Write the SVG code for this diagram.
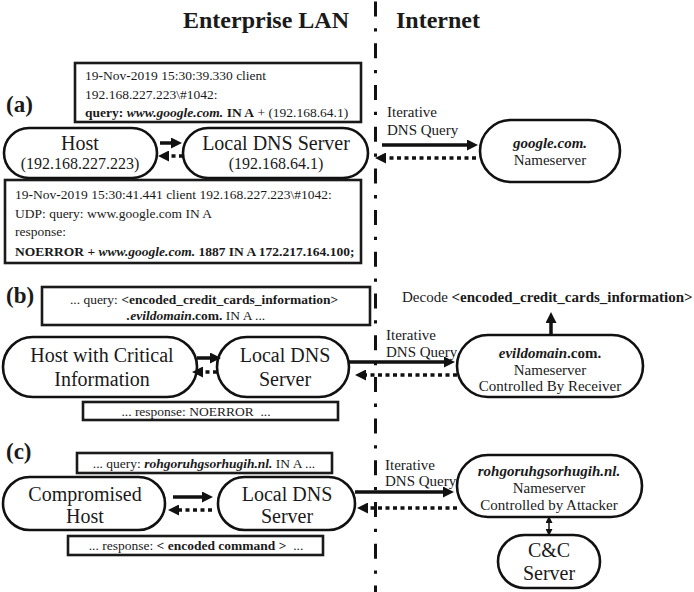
<svg xmlns="http://www.w3.org/2000/svg" width="694" height="592" viewBox="0 0 694 592" font-family="'Liberation Serif', 'DejaVu Serif', serif">
  <style>
    text { font-family: "Liberation Serif", "DejaVu Serif", serif; fill: #1a1a1a; }
    .title { font-size: 24px; font-weight: bold; }
    .tag { font-size: 23px; font-weight: bold; }
    .node { font-size: 20px; }
    .ns { font-size: 15px; }
    .ip { font-size: 16px; }
    .log { font-size: 13.5px; }
    .b { font-weight: bold; }
    .bi { font-weight: bold; font-style: italic; }
    .shape { fill: #fff; stroke: #111; stroke-width: 2.6; }
    .box { fill: #fff; stroke: #1a1a1a; stroke-width: 2.6; }
    .req { fill: none; stroke: #111; stroke-width: 3.5; }
    .rsp { fill: none; stroke: #111; stroke-width: 3.5; stroke-dasharray: 4 3.5; }
    .border { fill: none; stroke: #111; stroke-width: 3; stroke-dasharray: 15 11.7 3.3 11.7; }
  </style>
  <defs>
    <marker id="ah" markerUnits="userSpaceOnUse" markerWidth="11" markerHeight="11" refX="3" refY="5.5" orient="auto">
      <path d="M0,0 L11,5.5 L0,11 z" fill="#111"/>
    </marker>
    <marker id="ahs" markerUnits="userSpaceOnUse" markerWidth="7" markerHeight="7" refX="2" refY="3.5" orient="auto-start-reverse">
      <path d="M0,0 L7,3.5 L0,7 z" fill="#111"/>
    </marker>
  </defs>

  <!-- headings and the LAN / Internet border -->
  <text class="title" x="266" y="28" text-anchor="middle">Enterprise LAN</text>
  <text class="title" x="438" y="28" text-anchor="middle">Internet</text>
  <line class="border" x1="375.5" y1="1.6" x2="375.5" y2="592"/>

  <!-- (a) normal lookup -->
  <text class="tag" x="6" y="112">(a)</text>
  <g id="log-a-query">
    <rect class="box" x="75" y="63" width="286" height="59"/>
    <text class="log" x="85" y="80">19<tspan class="b">-</tspan>Nov<tspan class="b">-</tspan>2019 15:30:39.330 client</text>
    <text class="log" x="85" y="99">192.168.227.223\#1042:</text>
    <text class="log" x="85" y="117"><tspan class="b">query:</tspan> <tspan class="bi">www.google.com.</tspan> <tspan class="b">IN A</tspan> + (192.168.64.1)</text>
  </g>
  <g id="host-a">
    <rect class="shape" x="4" y="128" width="153" height="50" rx="25"/>
    <text class="node" x="80" y="150" text-anchor="middle">Host</text>
    <text class="ip" x="80" y="169" text-anchor="middle">(192.168.227.223)</text>
  </g>
  <g id="ldns-a">
    <rect class="shape" x="183" y="128" width="185" height="50" rx="25"/>
    <text class="node" x="276" y="150" text-anchor="middle">Local DNS Server</text>
    <text class="ip" x="276" y="169" text-anchor="middle">(192.168.64.1)</text>
  </g>
  <g id="log-a-response">
    <rect class="box" x="5" y="180" width="356" height="83"/>
    <text class="log" x="15" y="199">19<tspan class="b">-</tspan>Nov<tspan class="b">-</tspan>2019 15:30:41.441 client 192.168.227.223\#1042:</text>
    <text class="log" x="15" y="218">UDP: query: www.google.com IN A</text>
    <text class="log" x="15" y="236">response:</text>
    <text class="log b" x="15" y="256">NOERROR + <tspan class="bi">www.google.com.</tspan> 1887 IN A 172.217.164.100;</text>
  </g>
  <g id="ns-google">
    <rect class="shape" x="480" y="120" width="140" height="62" rx="31"/>
    <text class="ns bi" x="550" y="148" text-anchor="middle">google.com.</text>
    <text class="ns" x="550" y="165" text-anchor="middle">Nameserver</text>
  </g>
  <text class="ns" x="387" y="117">Iterative</text>
  <text class="ns" x="387" y="135">DNS Query</text>

  <!-- (b) data exfiltration -->
  <text class="tag" x="6" y="303">(b)</text>
  <g id="log-b-query">
    <rect class="box" x="42" y="287" width="328" height="38"/>
    <text class="log" x="204" y="304" text-anchor="middle">... query: <tspan class="b">&lt;encoded_credit_cards_information&gt;</tspan></text>
    <text class="log" x="196" y="320" text-anchor="middle"><tspan class="bi">.evildomain</tspan><tspan class="b">.com.</tspan> IN A ...</text>
  </g>
  <g id="host-b">
    <rect class="shape" x="3" y="337" width="194" height="60" rx="30"/>
    <text class="node" x="102" y="362" text-anchor="middle">Host with Critical</text>
    <text class="node" x="102" y="386" text-anchor="middle">Information</text>
  </g>
  <g id="ldns-b">
    <rect class="shape" x="217" y="337" width="132" height="60" rx="30"/>
    <text class="node" x="285" y="362" text-anchor="middle">Local DNS</text>
    <text class="node" x="285" y="386" text-anchor="middle">Server</text>
  </g>
  <g id="log-b-response">
    <rect class="box" x="83" y="402" width="255" height="18"/>
    <text class="log" x="196" y="416" text-anchor="middle" xml:space="preserve">... response: NOERROR  ...</text>
  </g>
  <g id="ns-evildomain">
    <rect class="shape" x="457" y="335" width="186" height="62" rx="31"/>
    <text class="ns b" x="550" y="358" text-anchor="middle"><tspan class="bi">evildomain</tspan>.com.</text>
    <text class="ns" x="550" y="375" text-anchor="middle">Nameserver</text>
    <text class="ns" x="550" y="391" text-anchor="middle">Controlled By Receiver</text>
  </g>
  <text class="ns" x="402" y="302">Decode <tspan class="b">&lt;encoded_credit_cards_information&gt;</tspan></text>
  <text class="ns" x="386" y="340">Iterative</text>
  <text class="ns" x="386" y="357">DNS Query</text>

  <!-- (c) command and control -->
  <text class="tag" x="6" y="459">(c)</text>
  <g id="log-c-query">
    <rect class="box" x="77" y="453" width="255" height="20"/>
    <text class="log" x="204" y="468" text-anchor="middle">... query: <tspan class="bi">rohgoruhgsorhugih.nl.</tspan> IN A ...</text>
  </g>
  <g id="host-c">
    <rect class="shape" x="3" y="477" width="162" height="53" rx="26.5"/>
    <text class="node" x="85" y="501" text-anchor="middle">Compromised</text>
    <text class="node" x="85" y="523" text-anchor="middle">Host</text>
  </g>
  <g id="ldns-c">
    <rect class="shape" x="218" y="477" width="137" height="53" rx="26.5"/>
    <text class="node" x="287" y="501" text-anchor="middle">Local DNS</text>
    <text class="node" x="287" y="523" text-anchor="middle">Server</text>
  </g>
  <g id="log-c-response">
    <rect class="box" x="68" y="536" width="255" height="19"/>
    <text class="log" x="196" y="550" text-anchor="middle" xml:space="preserve">... response: <tspan class="b">&lt; encoded command &gt;</tspan>  ...</text>
  </g>
  <g id="ns-attacker">
    <rect class="shape" x="457" y="455" width="185" height="62" rx="31"/>
    <text class="ns bi" x="549" y="476" text-anchor="middle">rohgoruhgsorhugih.nl.</text>
    <text class="ns" x="549" y="493" text-anchor="middle">Nameserver</text>
    <text class="ns" x="549" y="510" text-anchor="middle">Controlled by Attacker</text>
  </g>
  <g id="cc-server">
    <rect class="shape" x="498" y="535" width="102" height="53" rx="26.5"/>
    <text class="node" x="549" y="557" text-anchor="middle">C&amp;C</text>
    <text class="node" x="549" y="580" text-anchor="middle">Server</text>
  </g>
  <text class="ns" x="385" y="470">Iterative</text>
  <text class="ns" x="385" y="486">DNS Query</text>

  <!-- connectors: solid = query, dotted = response -->
  <g id="connectors">
    <line class="req" x1="160" y1="143" x2="174" y2="143" marker-end="url(#ah)"/>
    <line class="rsp" x1="183" y1="156" x2="166" y2="156" marker-end="url(#ah)"/>
    <line class="req" x1="382" y1="145" x2="470" y2="145" marker-end="url(#ah)"/>
    <line class="rsp" x1="476" y1="158" x2="383" y2="158" marker-end="url(#ah)"/>

    <line class="req" x1="197" y1="358" x2="213" y2="358" marker-end="url(#ah)"/>
    <line class="rsp" x1="217" y1="372" x2="200" y2="372" marker-end="url(#ah)"/>
    <line class="req" x1="349" y1="362" x2="447" y2="362" marker-end="url(#ah)"/>
    <line class="rsp" x1="457" y1="375" x2="363" y2="375" marker-end="url(#ah)"/>
    <line class="req" x1="551" y1="335" x2="551" y2="320" marker-end="url(#ah)"/>

    <line class="req" x1="173" y1="497" x2="205" y2="497" marker-end="url(#ah)"/>
    <line class="rsp" x1="212" y1="510" x2="176" y2="510" marker-end="url(#ah)"/>
    <line class="req" x1="355" y1="492" x2="446" y2="492" marker-end="url(#ah)"/>
    <line class="rsp" x1="457" y1="508" x2="365" y2="508" marker-end="url(#ah)"/>
    <line x1="549" y1="521" x2="549" y2="531" stroke="#111" stroke-width="1.5" marker-start="url(#ahs)" marker-end="url(#ahs)"/>
  </g>
</svg>
